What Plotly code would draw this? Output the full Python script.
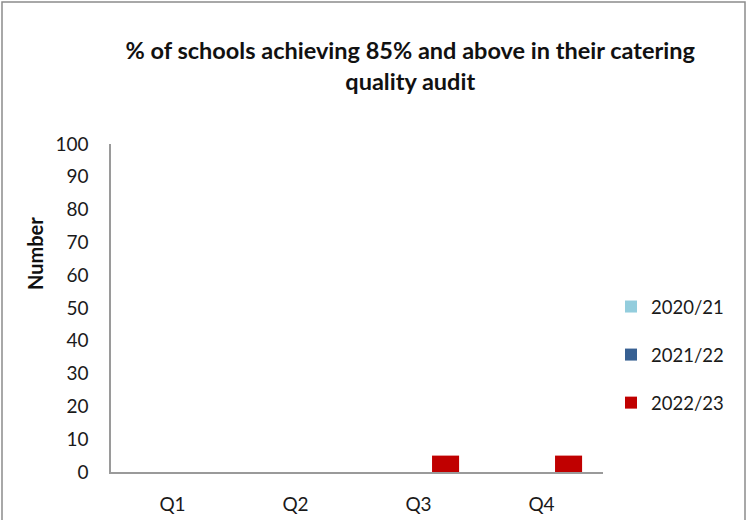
import plotly.graph_objects as go

quarters = ["Q1", "Q2", "Q3", "Q4"]
years = ["2020/21", "2021/22", "2022/23"]
values_2020_21 = [None, None, None, None]
values_2021_22 = [None, None, None, None]
values_2022_23 = [None, None, 5, 5]
colors = ["#93CDDD", "#376092", "#C00000"]

series = [values_2020_21, values_2021_22, values_2022_23]

FONT = "Lato"
fig = go.Figure()
for i, (name, vals, col) in enumerate(zip(years, series, colors)):
    fig.add_trace(go.Bar(
        x=quarters, y=vals, name=name, marker_color=col,
        marker_line_width=0, legendgroup=f"g{i}",
    ))

# plot area: 111..603 horizontally, 144..472 vertically
L, R, T, B = 111, 147, 144, 48
pw, ph = 750 - L - R, 520 - T - B

fig.update_layout(
    width=750, height=520,
    margin=dict(l=L, r=R, t=T, b=B, autoexpand=False),
    paper_bgcolor="white", plot_bgcolor="white",
    font=dict(family=FONT, size=19, color="#1a1a1a"),
    barmode="group", bargap=0.34, bargroupgap=0,
    title=dict(
        text="<b>% of schools achieving 85% and above in their catering<br>quality audit</b>",
        x=0.547, xanchor="center", y=1 - 59 / 520, yanchor="middle",
        font=dict(family=FONT, size=23.5, color="#111111"),
    ),
    legend=dict(
        x=(611 - L) / pw, xanchor="left",
        y=(472 - 288) / ph, yanchor="top",
        traceorder="grouped", tracegroupgap=21,
        font=dict(family=FONT, size=18.5),
        bgcolor="rgba(0,0,0,0)",
        itemwidth=30,
    ),
    xaxis=dict(
        showline=True, linecolor="#9a9a9a", linewidth=1.5,
        showgrid=False, ticks="", ticklabelstandoff=14, automargin=False,
        tickfont=dict(family=FONT, size=19),
    ),
    yaxis=dict(
        range=[0, 100], dtick=10, showline=True, linecolor="#9a9a9a",
        linewidth=1.5, showgrid=False, zeroline=False, ticks="",
        ticklabelstandoff=17, automargin=False,
        tickfont=dict(family=FONT, size=19),
    ),
    annotations=[dict(
        text="<b>Number</b>", textangle=-90, showarrow=False,
        xref="paper", yref="paper",
        x=(35 - L) / pw, y=(472 - 254) / ph,
        xanchor="center", yanchor="middle",
        font=dict(family=FONT, size=20, color="#111111"),
    )],
    shapes=[dict(
        type="rect", xref="paper", yref="paper",
        x0=(2 - L) / pw, x1=(745 - L) / pw,
        y0=(472 - 530) / ph, y1=(472 - 2) / ph,
        line=dict(color="#8c8c8c", width=1.5), fillcolor="rgba(0,0,0,0)",
        layer="below",
    )],
)

fig.write_html("out.html")
